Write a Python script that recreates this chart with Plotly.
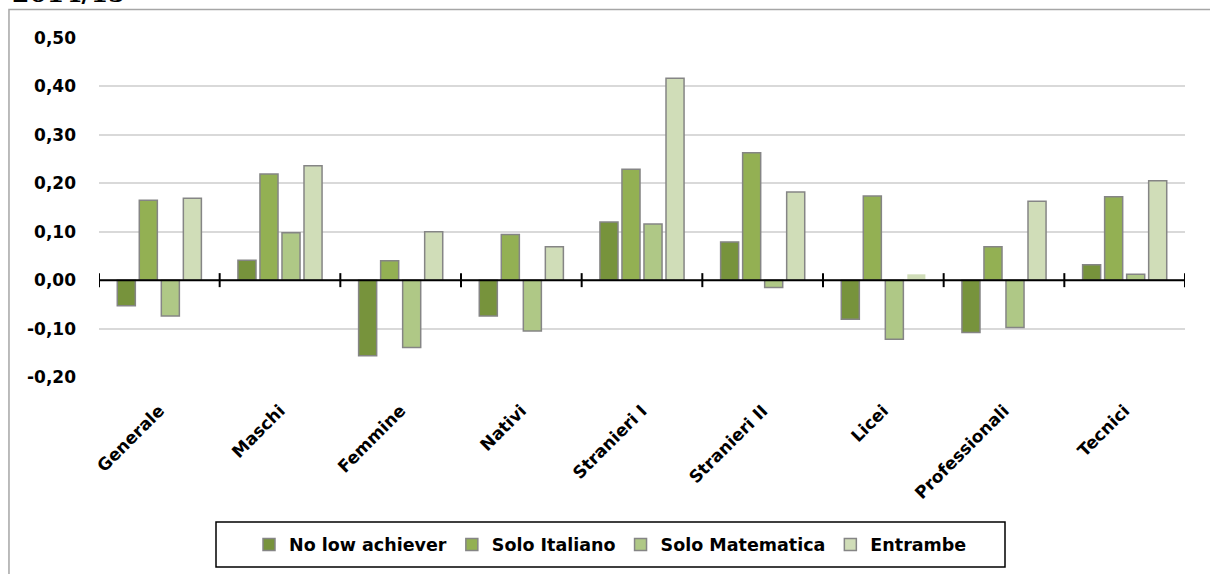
import plotly.graph_objects as go

categories = ["Generale", "Maschi", "Femmine", "Nativi", "Stranieri I",
              "Stranieri II", "Licei", "Professionali", "Tecnici"]
no_low = [-0.053, 0.041, -0.156, -0.074, 0.120, 0.079, -0.081, -0.108, 0.032]
solo_italiano = [0.165, 0.219, 0.040, 0.094, 0.229, 0.263, 0.174, 0.069, 0.172]
solo_matematica = [-0.074, 0.098, -0.139, -0.105, 0.116, -0.015, -0.122, -0.098, 0.012]
entrambe = [0.169, 0.236, 0.100, 0.069, 0.417, 0.182, 0.012, 0.163, 0.205]
series_names = ["No low achiever", "Solo Italiano", "Solo Matematica", "Entrambe"]
y_tick_vals = [-0.2, -0.1, 0.0, 0.1, 0.2, 0.3, 0.4, 0.5]
y_tick_text = ["-0,20", "-0,10", "0,00", "0,10", "0,20", "0,30", "0,40", "0,50"]
title_text = "2014/15"

colors = ["#77933C", "#93B053", "#AFC886", "#D0DDB8"]
border = "#858585"
FONT = "DejaVu Sans"

fig = go.Figure()
all_series = [no_low, solo_italiano, solo_matematica, entrambe]
for name, vals, col in zip(series_names, all_series, colors):
    if name == "Entrambe":
        lw = [0 if abs(v) < 0.02 else 1.5 for v in vals]
    else:
        lw = 1.5
    fig.add_trace(go.Bar(
        x=categories, y=vals, name=name,
        marker=dict(color=col, line=dict(color=border, width=lw)),
    ))

n = len(categories)

fig.update_layout(
    width=1210, height=574,
    margin=dict(l=99, r=25, t=38, b=197),
    paper_bgcolor="white", plot_bgcolor="white",
    barmode="group", bargap=0.27, bargroupgap=0.18,
    showlegend=True,
    legend=dict(orientation="h", x=0.471, xanchor="center", y=-0.4948, yanchor="middle",
                borderwidth=0, bgcolor="rgba(0,0,0,0)",
                font=dict(family=FONT, size=17.5, color="black", weight="bold"),
                traceorder="normal"),
    xaxis=dict(type="category", range=[-0.5, n - 0.5], showline=False,
               ticks="outside", ticklen=16, tickcolor="rgba(0,0,0,0)",
               tickangle=-45, showgrid=False, zeroline=False,
               tickfont=dict(family=FONT, size=17, color="black", weight="bold")),
    yaxis=dict(range=[y_tick_vals[0], y_tick_vals[-1]], tickmode="array",
               tickvals=y_tick_vals, ticktext=y_tick_text,
               showgrid=True, gridcolor="#D9D9D9", gridwidth=1.5,
               zeroline=False, showline=False, ticks="", ticklabelstandoff=22,
               tickfont=dict(family=FONT, size=17, color="black", weight="bold")),
)

# horizontal category axis drawn at y = 0, with crossing tick marks at category boundaries
fig.add_shape(type="line", xref="x", yref="y", x0=-0.5, x1=n - 0.5, y0=0, y1=0,
              line=dict(color="black", width=2), layer="above")
for i in range(n + 1):
    fig.add_shape(type="line", xref="x", yref="y", x0=i - 0.5, x1=i - 0.5,
                  ysizemode="pixel", yanchor=0, y0=-7, y1=7,
                  line=dict(color="black", width=2), layer="above")

# outer chart frame (partially cut off like the reference)
fig.add_shape(type="rect", xref="paper", yref="paper",
              x0=-0.0829, y0=-0.8, x1=1.1, y1=1.0842,
              line=dict(color="#A6A6A6", width=1.5), fillcolor="rgba(0,0,0,0)",
              layer="below")
# legend box
fig.add_shape(type="rect", xref="paper", yref="paper",
              x0=(216 - 99) / 1086, x1=(1005 - 99) / 1086,
              y0=(377 - 567) / 339, y1=(377 - 522) / 339,
              line=dict(color="black", width=1.5), fillcolor="white",
              layer="below")

fig.add_annotation(text=title_text, xref="paper", yref="paper",
                   x=-0.082, y=1.082, xanchor="left", yanchor="bottom",
                   showarrow=False,
                   font=dict(family="DejaVu Serif", size=25, color="black", weight="bold"))

fig.write_html("out.html", config={"displayModeBar": False},
               post_script="document.body.style.margin='0';")
